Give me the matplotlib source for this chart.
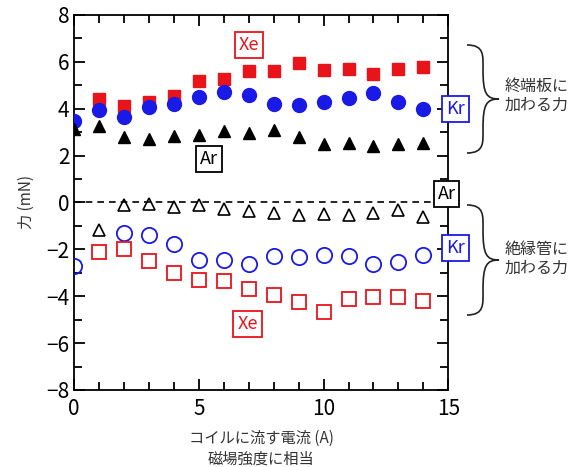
import matplotlib
matplotlib.use("Agg")
import matplotlib.pyplot as plt
import numpy as np
from matplotlib.path import Path
from matplotlib.patches import PathPatch
from matplotlib.ticker import MultipleLocator

plt.rcParams['font.family'] = ['Noto Sans CJK JP', 'DejaVu Sans']

current = list(range(15))
x_open_kr = [0, 2, 3, 4, 5, 6, 7, 8, 9, 10, 11, 12, 13, 14]
x_plate_xe = list(range(1, 15))
x_tube_xe = list(range(1, 15))
x_tube_ar = list(range(1, 15))

plate_xe = [4.4, 4.1, 4.3, 4.55, 5.2, 5.27, 5.6, 5.6, 5.94, 5.64, 5.68, 5.48, 5.7, 5.8]
plate_kr = [3.48, 3.95, 3.63, 4.08, 4.18, 4.48, 4.7, 4.58, 4.18, 4.15, 4.29, 4.44, 4.65, 4.29, 3.98]
plate_ar = [3.15, 3.25, 2.8, 2.7, 2.83, 2.89, 3.03, 2.96, 3.09, 2.79, 2.48, 2.53, 2.4, 2.48, 2.53]
tube_ar = [-1.18, -0.12, -0.05, -0.2, -0.1, -0.28, -0.38, -0.45, -0.54, -0.5, -0.54, -0.43, -0.33, -0.6]
tube_kr = [-2.73, -1.29, -1.4, -1.79, -2.46, -2.46, -2.62, -2.29, -2.33, -2.24, -2.29, -2.62, -2.55, -2.24]
tube_xe = [-2.1, -1.97, -2.5, -3.0, -3.33, -3.36, -3.69, -3.96, -4.26, -4.69, -4.1, -4.03, -4.05, -4.22]

RED = '#e8141a'
BLUE = '#1a1ae6'

fig = plt.figure(figsize=(5.71, 4.67), dpi=100)
ax = fig.add_axes([0.13, 0.165, 0.655, 0.803])

ax.axhline(0, color='black', lw=1.2, ls=(0, (4, 3)), zorder=1)

ax.plot(x_plate_xe, plate_xe, 's', color=RED, ms=9, mec=RED, ls='none', zorder=3)
ax.plot(current, plate_kr, 'o', color=BLUE, ms=10, ls='none', zorder=3)
ax.plot(current, plate_ar, '^', color='black', ms=8.5, ls='none', zorder=3)
ax.plot(x_tube_ar, tube_ar, '^', mfc='none', mec='black', mew=1.2, ms=9, ls='none', zorder=3)
ax.plot(x_open_kr, tube_kr, 'o', mfc='none', mec=BLUE, mew=1.3, ms=11, ls='none', zorder=3)
ax.plot(x_tube_xe, tube_xe, 's', mfc='none', mec=RED, mew=1.3, ms=10, ls='none', zorder=3)

ax.set_xlim(0, 15)
ax.set_ylim(-8, 8)
ax.xaxis.set_major_locator(MultipleLocator(5))
ax.xaxis.set_minor_locator(MultipleLocator(1))
ax.yaxis.set_major_locator(MultipleLocator(2))
ax.yaxis.set_minor_locator(MultipleLocator(1))
ax.tick_params(which='both', direction='in', top=True, right=True, labelsize=15, width=1.3)
ax.tick_params(which='major', length=8)
ax.tick_params(which='minor', length=6)
for s in ax.spines.values():
    s.set_linewidth(1.3)
ax.tick_params(axis='x', pad=6)

ax.set_ylabel('力 (mN)', fontsize=11, color='#333333', labelpad=8)
ax.set_xlabel('コイルに流す電流 (A)\n磁場強度に相当', fontsize=11, color='#333333',
              linespacing=1.25, labelpad=7)

def boxed(x, y, s, c):
    ax.text(x, y, s, color=c, fontsize=13, ha='center', va='center', zorder=5,
            bbox=dict(boxstyle='square,pad=0.22', fc='white', ec=c, lw=1.3),
            clip_on=False)

boxed(7.0, 6.7, 'Xe', RED)
boxed(5.4, 1.85, 'Ar', 'black')
boxed(6.95, -5.2, 'Xe', RED)
boxed(15.3, 4.0, 'Kr', BLUE)
boxed(14.93, 0.35, 'Ar', 'black')
boxed(15.3, -1.95, 'Kr', BLUE)

def brace(x0, y_top, y_bot, w):
    ym = (y_top + y_bot) / 2
    h = (y_top - y_bot) / 2
    verts = [
        (x0, y_top),
        (x0 + w * 0.55, y_top), (x0 + w * 0.5, y_top - h * 0.2), (x0 + w * 0.5, y_top - h * 0.45),
        (x0 + w * 0.5, ym + h * 0.1), (x0 + w * 0.6, ym), (x0 + w, ym),
        (x0 + w * 0.6, ym), (x0 + w * 0.5, ym - h * 0.1), (x0 + w * 0.5, y_bot + h * 0.45),
        (x0 + w * 0.5, y_bot + h * 0.2), (x0 + w * 0.55, y_bot), (x0, y_bot),
    ]
    codes = [Path.MOVETO] + [Path.CURVE4] * 12
    p = PathPatch(Path(verts, codes), fc='none', ec='#222222', lw=1.2,
                  transform=fig.transFigure, clip_on=False)
    fig.patches.append(p)

brace(467 / 571, 1 - 45 / 467, 1 - 153 / 467, 32 / 571)
brace(467 / 571, 1 - 205 / 467, 1 - 315 / 467, 32 / 571)

fig.text(505 / 571, 1 - 96 / 467, '終端板に\n加わる力', fontsize=11.5, color='#333333',
         ha='left', va='center', linespacing=1.15)
fig.text(505 / 571, 1 - 259 / 467, '絶縁管に\n加わる力', fontsize=11.5, color='#333333',
         ha='left', va='center', linespacing=1.15)

fig.savefig('out.png', dpi=100)
